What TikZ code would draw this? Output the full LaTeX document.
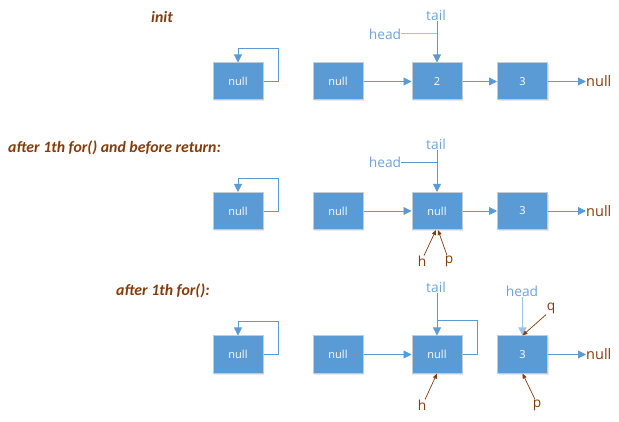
\documentclass[tikz,border=0pt]{standalone}
\usepackage{fontspec}
\setmainfont{Open Sans}
\newfontfamily\labfont{Carlito}
\usetikzlibrary{arrows.meta,shadows}
\definecolor{boxblue}{HTML}{5B9BD5}
\definecolor{boxedge}{HTML}{C2CCD6}
\definecolor{ptrblue}{HTML}{6FA3DA}
\definecolor{lightline}{HTML}{9DC3E6}
\definecolor{brown}{HTML}{843C0C}
\begin{document}
\begin{tikzpicture}[x=1pt,y=-1pt,
  listbox/.style={draw=boxedge,line width=1pt,fill=boxblue,minimum width=50pt,minimum height=37pt,inner sep=0pt,
    text=white,font=\fontsize{11}{13}\selectfont,
    drop shadow={opacity=0.18,shadow xshift=1pt,shadow yshift=-1.5pt}},
  arr/.style={draw=boxblue,line width=0.9pt,-{Triangle[length=8pt,width=8pt]}},
  plain/.style={draw=boxblue,line width=0.9pt},
  headline/.style={draw=lightline,line width=1pt},
  barr/.style={draw=brown,line width=0.7pt,-{Triangle[length=5pt,width=4pt]}},
  ptr/.style={text=ptrblue,font=\fontsize{13.8}{15}\selectfont,inner sep=0pt},
  bptr/.style={text=brown,font=\fontsize{13.8}{15}\selectfont,inner sep=0pt},
  endnull/.style={text=brown,font=\fontsize{14.5}{16}\selectfont,inner sep=0pt,anchor=west},
  steplabel/.style={text=brown,font=\labfont\bfseries\itshape\fontsize{15.8}{18}\selectfont,inner sep=0pt,anchor=west}]
\useasboundingbox (0,0) rectangle (619,422);

% ---------- row 1: init ----------
\node[steplabel] (l1) at (151,17) {init};
\node[listbox] (a1) at (238,81.5) {null};
\node[listbox] (a2) at (338,81.5) {null};
\node[listbox] (a3) at (437,81.5) {2};
\node[listbox] (a4) at (522.5,81.5) {3};
\node[endnull] (an) at (586,81.5) {null};
\node[ptr] (at) at (436,15) {tail};
\node[ptr] (ah) at (385,34) {head};
\coordinate (aj) at (437,34);
\draw[arr] (a1.east) -- ++(15,0) |- ([yshift=14pt]a1.north) -- (a1.north);
\draw[arr] (a2) -- (a3);
\draw[arr] (a3) -- (a4);
\draw[arr] (a4) -- (an);
\draw[arr] (at.south -| a3.north) -- (a3.north);
\draw[headline] (ah.east) -- (aj);

% ---------- row 2 ----------
\node[steplabel] (l2) at (8,148) {after 1th for() and before return:};
\node[listbox] (b1) at (238,211) {null};
\node[listbox] (b2) at (338,211) {null};
\node[listbox] (b3) at (437,211) {null};
\node[listbox] (b4) at (522.5,211) {3};
\node[endnull] (bn) at (586,211) {null};
\node[ptr] (bt) at (436,144) {tail};
\node[ptr] (bh) at (385,162) {head};
\coordinate (bj) at (437,162);
\node[bptr] (bhh) at (422,261) {h};
\node[bptr] (bp) at (449,261) {p};
\draw[arr] (b1.east) -- ++(15,0) |- ([yshift=14pt]b1.north) -- (b1.north);
\draw[arr] (b2) -- (b3);
\draw[arr] (b3) -- (b4);
\draw[arr] (b4) -- (bn);
\draw[arr] (bt.south -| b3.north) -- (b3.north);
\draw[plain] (bh.east) -- (bj);
\draw[barr] ([xshift=2pt]bhh.north) -- ([xshift=-1pt]b3.south);
\draw[barr] ([xshift=-2pt]bp.north) -- ([xshift=1pt]b3.south);

% ---------- row 3 ----------
\node[steplabel] (l3) at (116,291) {after 1th for():};
\node[listbox] (c1) at (238,354.5) {null};
\node[listbox] (c2) at (338,354.5) {null};
\node[listbox] (c3) at (437,354.5) {null};
\node[listbox] (c4) at (522.5,354.5) {3};
\node[endnull] (cn) at (586,354.5) {null};
\node[ptr] (ct) at (436,287) {tail};
\node[ptr] (ch) at (522,291) {head};
\node[bptr] (cq) at (551,308) {q};
\node[bptr] (chh) at (422,405) {h};
\node[bptr] (cp) at (537,405) {p};
\draw[arr] (c1.east) -- ++(15,0) |- ([yshift=14pt]c1.north) -- (c1.north);
\draw[arr] (c2) -- (c3);
\draw[arr] (c4) -- (cn);
\draw[arr] (c3.east) -- ++(15,0) |- ([yshift=15pt]c3.north) -- (c3.north);
\draw[plain] (ct.south -| c3.north) -- ([yshift=15pt]c3.north);
\draw[headline,-{Triangle[length=8pt,width=8pt]},draw=lightline] (ch.south -| c4.north) -- (c4.north);
\draw[barr] ([xshift=-5pt,yshift=-1pt]cq.south) -- (c4.north);
\draw[barr] ([xshift=3pt]chh.north) -- (c3.south);
\draw[barr] ([xshift=-2pt]cp.north) -- (c4.south);
\end{tikzpicture}
\end{document}
